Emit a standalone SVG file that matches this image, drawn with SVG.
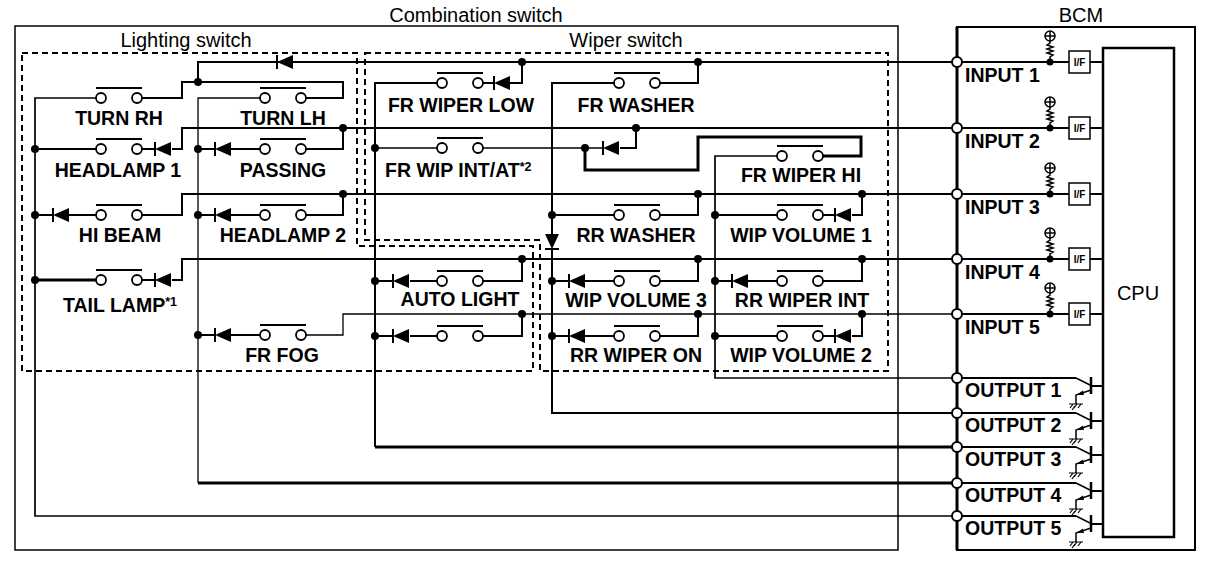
<svg xmlns="http://www.w3.org/2000/svg" width="1216" height="582" viewBox="0 0 1216 582">
<style>
.w{fill:none;stroke:#000;stroke-width:2;stroke-linejoin:miter}
.wt{fill:none;stroke:#000;stroke-width:3}
.wn{fill:none;stroke:#000;stroke-width:1.3}
.wm{fill:none;stroke:#000;stroke-width:1.7}
.box{fill:none;stroke:#000;stroke-width:1.5}
.dash{fill:none;stroke:#000;stroke-width:2;stroke-dasharray:6 4}
.ct{fill:#fff;stroke:#000;stroke-width:1.8}
.oc{fill:#fff;stroke:#000;stroke-width:2}
.bar{stroke:#000;stroke-width:1.8}
.dot{fill:#000}
.lb{font-family:"Liberation Sans",Arial,sans-serif;font-size:19.5px;font-weight:bold;fill:#000}
.sup{font-size:12.5px}
.tt{font-family:"Liberation Sans",Arial,sans-serif;font-size:20px;fill:#000}
.if{font-family:"Liberation Sans",Arial,sans-serif;font-size:10px;font-weight:bold;fill:#000}
</style>
<defs>
<g id="sw"><line x1="-5" y1="-10" x2="41" y2="-10" class="bar"/><circle cx="0" cy="0" r="5" class="ct"/><circle cx="36" cy="0" r="5" class="ct"/></g>
<g id="dL"><line x1="0" y1="-7" x2="0" y2="7" stroke="#000" stroke-width="2"/><polygon points="0,0 16,-7 16,7" fill="#000"/></g>
<g id="pu"><path d="M0,0 V-5 L3,-7 L-3,-9 L3,-11 L-3,-13 L3,-15 L-3,-17 L0,-19 V-21" fill="none" stroke="#000" stroke-width="1.5"/><circle cx="0" cy="-26" r="5" fill="#fff" stroke="#000" stroke-width="1.5"/><path d="M-5,-26 H5 M0,-31 V-21" stroke="#000" stroke-width="1.5"/><circle cx="0" cy="0" r="3.5" fill="#000"/><rect x="19" y="-11" width="21" height="22" fill="#fff" stroke="#000" stroke-width="1.5"/><text x="29.5" y="3.8" text-anchor="middle" class="if">I/F</text></g>
<g id="tr"><path d="M119,0 L133,7" fill="none" stroke="#000" stroke-width="1.5"/><line x1="134" y1="-1" x2="134" y2="16" stroke="#000" stroke-width="2.5"/><path d="M134,8 H146" fill="none" stroke="#000" stroke-width="2"/><path d="M134,12 L119,17 V26" fill="none" stroke="#000" stroke-width="1.5"/><polygon points="119.5,16.8 126,12.6 127,17" fill="#000"/><path d="M112,26 H126 M113,30 L116,26 M117,30 L120,26 M121,30 L124,26 M115,32 L118,28" fill="none" stroke="#000" stroke-width="1.2"/></g>
</defs>
<rect width="1216" height="582" fill="#fff"/>

<g id="frames">
<rect x="15" y="26" width="883" height="524" class="box"/>
<text x="476" y="22" text-anchor="middle" class="tt">Combination switch</text>
<path d="M22,53 H357 V246 H533 V371 H22 Z" class="dash"/>
<text x="186" y="47" text-anchor="middle" class="tt">Lighting switch</text>
<path d="M365,53 H888 V371 H540 V240 H365 Z" class="dash"/>
<text x="626" y="47" text-anchor="middle" class="tt">Wiper switch</text>
</g>

<g id="connectors">
<path d="M198,82 V62 H957" class="w"/>
<path d="M137,98 H182 V82 H343 V98 H301" class="w"/>
<path d="M101,98 H35 V516 H957" class="wm"/>
<path d="M265,98 H198 V483" class="wn"/>
<path d="M198,483 H957" class="wt"/>
<path d="M137,149 H155 M172,149 H182 V128 H957" class="w"/>
<path d="M301,149 H343 V128" class="w"/>
<path d="M101,149 H35 M231,149 H265 M215,149 H198" class="w"/>
<path d="M137,215 H182 V194 H957" class="w"/>
<path d="M301,215 H343 V194" class="w"/>
<path d="M101,215 H69 M53,215 H35 M265,215 H231 M215,215 H198" class="w"/>
<path d="M137,280 H155 M172,280 H182 V259 H957" class="w"/>
<path d="M101,280 H35" class="wt"/>
<path d="M301,335 H343 V314 H957" class="wn"/>
<path d="M265,335 H231 M215,335 H198" class="w"/>
<path d="M478,83 H494 M510,83 H522 V62" class="w"/>
<path d="M442,83 H375 V447" class="w"/>
<path d="M375,447 H957" class="wt"/>
<path d="M442,148 H375 M478,148 H603" class="wn"/>
<path d="M620,148 H636 V128" class="w"/>
<path d="M585,148 V170 H698 V137 H861 V156 H818" class="wt"/>
<path d="M782,156 H715 V378 H957" class="wm"/>
<path d="M655,83 H698 V62" class="w"/>
<path d="M619,83 H552 V234 M552,249 V413 H957" class="w"/>
<path d="M619,215 H552 M655,215 H698 V194" class="w"/>
<path d="M782,215 H715 M818,215 H835 M852,215 H862 V194" class="w"/>
<path d="M375,281 H393 M410,281 H442 M478,281 H522 V259" class="w"/>
<path d="M375,336 H393 M410,336 H442 M478,336 H522 V314" class="w"/>
<path d="M552,281 H569 M585,281 H619 M655,281 H698 V259" class="w"/>
<path d="M552,336 H569 M585,336 H619 M655,336 H698 V314" class="w"/>
<path d="M715,281 H732 M748,281 H782 M818,281 H862 V259" class="w"/>
<path d="M715,336 H782 M818,336 H835 M852,336 H862 V314" class="w"/>
<use href="#dL" x="277" y="62"/>
<g transform="translate(552,249) rotate(-90)"><line x1="0" y1="-7" x2="0" y2="7" stroke="#000" stroke-width="2"/><polygon points="0,0 15,-7 15,7" fill="#000"/></g>
<g class="dot">
<circle cx="198" cy="82" r="4"/><circle cx="343" cy="128" r="4"/><circle cx="35" cy="149" r="4"/><circle cx="198" cy="149" r="4"/>
<circle cx="343" cy="194" r="4"/><circle cx="35" cy="215" r="4"/><circle cx="198" cy="215" r="4"/><circle cx="35" cy="280" r="4"/>
<circle cx="198" cy="335" r="4"/><circle cx="522" cy="62" r="4"/><circle cx="698" cy="62" r="4"/><circle cx="375" cy="148" r="4"/>
<circle cx="636" cy="128" r="4"/><circle cx="585" cy="148" r="4"/><circle cx="552" cy="215" r="4"/><circle cx="698" cy="194" r="4"/>
<circle cx="715" cy="215" r="4"/><circle cx="862" cy="194" r="4"/><circle cx="522" cy="259" r="4"/><circle cx="375" cy="281" r="4"/>
<circle cx="522" cy="314" r="4"/><circle cx="375" cy="336" r="4"/><circle cx="698" cy="259" r="4"/><circle cx="552" cy="281" r="4"/>
<circle cx="698" cy="314" r="4"/><circle cx="552" cy="336" r="4"/><circle cx="862" cy="259" r="4"/><circle cx="715" cy="281" r="4"/>
<circle cx="862" cy="314" r="4"/><circle cx="715" cy="336" r="4"/>
</g>
</g>

<g id="turn-rh"><use href="#sw" x="101" y="98"/><text x="119" y="125" text-anchor="middle" class="lb">TURN RH</text></g>
<g id="turn-lh"><use href="#sw" x="265" y="98"/><text x="283" y="125" text-anchor="middle" class="lb">TURN LH</text></g>
<g id="headlamp-1"><use href="#sw" x="101" y="149"/><use href="#dL" x="155" y="149"/><text x="118" y="177" text-anchor="middle" class="lb">HEADLAMP 1</text></g>
<g id="passing"><use href="#sw" x="265" y="149"/><use href="#dL" x="215" y="149"/><text x="283" y="177" text-anchor="middle" class="lb">PASSING</text></g>
<g id="hi-beam"><use href="#sw" x="101" y="215"/><use href="#dL" x="53" y="215"/><text x="120" y="242" text-anchor="middle" class="lb">HI BEAM</text></g>
<g id="headlamp-2"><use href="#sw" x="265" y="215"/><use href="#dL" x="215" y="215"/><text x="283" y="242" text-anchor="middle" class="lb">HEADLAMP 2</text></g>
<g id="tail-lamp"><use href="#sw" x="101" y="280"/><use href="#dL" x="155" y="280"/><text x="63" y="312" class="lb">TAIL LAMP<tspan class="sup" dy="-6">*1</tspan></text></g>
<g id="fr-fog"><use href="#sw" x="265" y="335"/><use href="#dL" x="215" y="335"/><text x="282" y="362" text-anchor="middle" class="lb">FR FOG</text></g>

<g id="fr-wiper-low"><use href="#sw" x="442" y="83"/><use href="#dL" x="494" y="83"/><text x="461" y="112" text-anchor="middle" class="lb">FR WIPER LOW</text></g>
<g id="fr-washer"><use href="#sw" x="619" y="83"/><text x="636" y="112" text-anchor="middle" class="lb">FR WASHER</text></g>
<g id="fr-wip-int"><use href="#sw" x="442" y="148"/><use href="#dL" x="603" y="148"/><text x="385" y="177" class="lb">FR WIP INT/AT<tspan class="sup" dy="-6">*2</tspan></text></g>
<g id="fr-wiper-hi"><use href="#sw" x="782" y="156"/><text x="801" y="182" text-anchor="middle" class="lb">FR WIPER HI</text></g>
<g id="rr-washer"><use href="#sw" x="619" y="215"/><text x="636" y="242" text-anchor="middle" class="lb">RR WASHER</text></g>
<g id="wip-volume-1"><use href="#sw" x="782" y="215"/><use href="#dL" x="835" y="215"/><text x="801" y="242" text-anchor="middle" class="lb">WIP VOLUME 1</text></g>
<g id="auto-light"><use href="#sw" x="442" y="281"/><use href="#dL" x="393" y="281"/><text x="460" y="306" text-anchor="middle" class="lb">AUTO LIGHT</text></g>
<g id="auto-light-2"><use href="#sw" x="442" y="336"/><use href="#dL" x="393" y="336"/></g>
<g id="wip-volume-3"><use href="#sw" x="619" y="281"/><use href="#dL" x="569" y="281"/><text x="636" y="307" text-anchor="middle" class="lb">WIP VOLUME 3</text></g>
<g id="rr-wiper-on"><use href="#sw" x="619" y="336"/><use href="#dL" x="569" y="336"/><text x="636" y="362" text-anchor="middle" class="lb">RR WIPER ON</text></g>
<g id="rr-wiper-int"><use href="#sw" x="782" y="281"/><use href="#dL" x="732" y="281"/><text x="802" y="307" text-anchor="middle" class="lb">RR WIPER INT</text></g>
<g id="wip-volume-2"><use href="#sw" x="782" y="336"/><use href="#dL" x="835" y="336"/><text x="801" y="362" text-anchor="middle" class="lb">WIP VOLUME 2</text></g>

<g id="bcm">
<rect x="957" y="27" width="238" height="523" fill="none" stroke="#000" stroke-width="2"/>
<line x1="957" y1="27" x2="957" y2="550" stroke="#000" stroke-width="3"/>
<text x="1081" y="22" text-anchor="middle" class="tt">BCM</text>
<path d="M957,62 H1069 M1090,62 H1103 M957,128 H1069 M1090,128 H1103 M957,194 H1069 M1090,194 H1103 M957,259 H1069 M1090,259 H1103 M957,314 H1069 M1090,314 H1103" class="w"/>
<use href="#pu" x="1050" y="62"/>
<use href="#pu" x="1050" y="128"/>
<use href="#pu" x="1050" y="194"/>
<use href="#pu" x="1050" y="259"/>
<use href="#pu" x="1050" y="314"/>
<path d="M957,378 H1076 M957,413 H1076 M957,447 H1076 M957,483 H1076 M957,516 H1076" class="w"/>
<use href="#tr" x="957" y="378"/>
<use href="#tr" x="957" y="413"/>
<use href="#tr" x="957" y="447"/>
<use href="#tr" x="957" y="483"/>
<use href="#tr" x="957" y="516"/>
<g class="oc">
<circle cx="957" cy="62" r="5"/><circle cx="957" cy="128" r="5"/><circle cx="957" cy="194" r="5"/><circle cx="957" cy="259" r="5"/><circle cx="957" cy="314" r="5"/>
<circle cx="957" cy="378" r="5"/><circle cx="957" cy="413" r="5"/><circle cx="957" cy="447" r="5"/><circle cx="957" cy="483" r="5"/><circle cx="957" cy="516" r="5"/>
</g>
<text x="965" y="82" class="lb">INPUT 1</text>
<text x="965" y="148" class="lb">INPUT 2</text>
<text x="965" y="214" class="lb">INPUT 3</text>
<text x="965" y="279" class="lb">INPUT 4</text>
<text x="965" y="334" class="lb">INPUT 5</text>
<text x="965" y="397" class="lb">OUTPUT 1</text>
<text x="965" y="432" class="lb">OUTPUT 2</text>
<text x="965" y="466" class="lb">OUTPUT 3</text>
<text x="965" y="502" class="lb">OUTPUT 4</text>
<text x="965" y="535" class="lb">OUTPUT 5</text>
</g>
<g id="cpu">
<rect x="1103" y="48" width="71" height="489" fill="none" stroke="#000" stroke-width="2.5"/>
<text x="1138" y="300" text-anchor="middle" class="tt">CPU</text>
</g>
</svg>
